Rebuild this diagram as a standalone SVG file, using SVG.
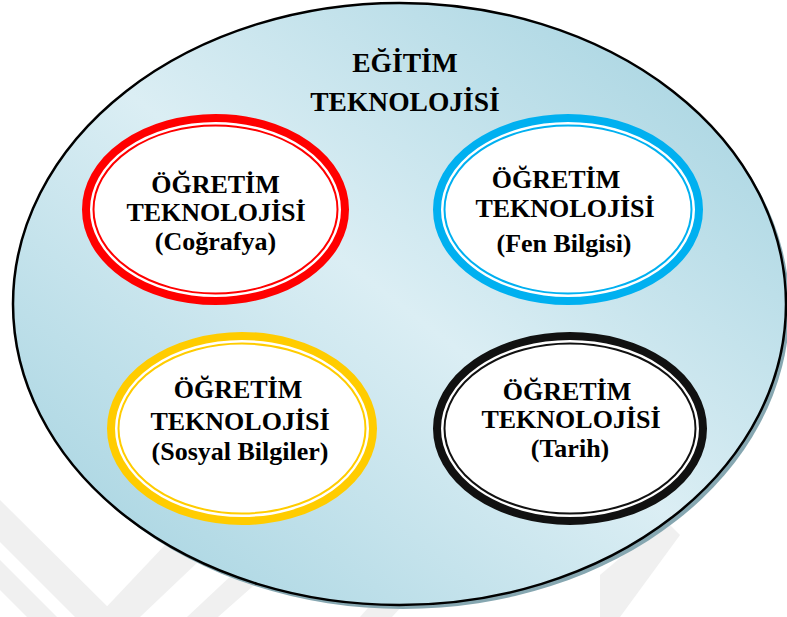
<svg xmlns="http://www.w3.org/2000/svg" width="787" height="617" viewBox="0 0 787 617">
  <style>
    .t { font-family: "Liberation Serif", "Times New Roman", serif; font-weight: 700; font-size: 26px; fill: #000; text-anchor: middle; }
    .tt { font-family: "Liberation Serif", "Times New Roman", serif; font-weight: 700; font-size: 27.5px; fill: #000; text-anchor: middle; }
    .wm { fill: #f0f0f0; }
    .inner { fill: #ffffff; }
  </style>
  <defs>
    <linearGradient id="bg" x1="0" y1="1" x2="1" y2="0">
      <stop offset="0" stop-color="#9fd0de"/>
      <stop offset="0.5" stop-color="#dbeef4"/>
      <stop offset="1" stop-color="#9fd0de"/>
    </linearGradient>
  </defs>
  <rect width="787" height="617" fill="#ffffff"/>
  <g id="watermark">
    <polygon class="wm" points="0,500 0,542 75,617 118,617"/>
    <polygon class="wm" points="0,560 0,590 27,617 57,617"/>
    <polygon class="wm" points="97,617 140,617 200,560 165,545"/>
    <polygon class="wm" points="187,617 218,617 260,580 235,572"/>
    <polygon class="wm" points="360,617 392,617 480,520 450,515"/>
    <polygon class="wm" points="600,575 600,617 620,617 680,535 665,520"/>
  </g>
  <g id="egitim-teknolojisi">
    <ellipse cx="403" cy="308" rx="386.5" ry="301" fill="#86a7b1"/>
    <ellipse cx="399.5" cy="304" rx="386.5" ry="301" fill="url(#bg)" stroke="#000" stroke-width="2.5"/>
    <text class="tt" x="405" y="72">EĞİTİM</text>
    <text class="tt" x="405" y="111">TEKNOLOJİSİ</text>
  </g>
  <g id="cografya">
    <ellipse cx="215.5" cy="209.5" rx="129.5" ry="91.5" class="inner" stroke="#ff0000" stroke-width="8"/>
    <ellipse cx="215.5" cy="209.5" rx="122" ry="84" fill="none" stroke="#ff0000" stroke-width="2"/>
    <text class="t" x="215.5" y="193">ÖĞRETİM</text>
    <text class="t" x="216" y="221">TEKNOLOJİSİ</text>
    <text class="t" x="215.5" y="250">(Coğrafya)</text>
  </g>
  <g id="fen-bilgisi">
    <ellipse cx="568" cy="209.5" rx="131" ry="91.5" class="inner" stroke="#00b0f0" stroke-width="8"/>
    <ellipse cx="568" cy="209.5" rx="123.5" ry="84" fill="none" stroke="#00b0f0" stroke-width="2"/>
    <text class="t" x="556" y="188">ÖĞRETİM</text>
    <text class="t" x="565" y="217">TEKNOLOJİSİ</text>
    <text class="t" x="564" y="252">(Fen Bilgisi)</text>
  </g>
  <g id="sosyal-bilgiler">
    <ellipse cx="242" cy="428.5" rx="131" ry="92.5" class="inner" stroke="#ffcc00" stroke-width="8"/>
    <ellipse cx="242" cy="428.5" rx="123.5" ry="85" fill="none" stroke="#ffcc00" stroke-width="2"/>
    <text class="t" x="238" y="398">ÖĞRETİM</text>
    <text class="t" x="240" y="430">TEKNOLOJİSİ</text>
    <text class="t" x="240" y="460">(Sosyal Bilgiler)</text>
  </g>
  <g id="tarih">
    <ellipse cx="570" cy="428.5" rx="133" ry="92.5" class="inner" stroke="#111111" stroke-width="8"/>
    <ellipse cx="570" cy="428.5" rx="125.5" ry="85" fill="none" stroke="#111111" stroke-width="2"/>
    <text class="t" x="567" y="400">ÖĞRETİM</text>
    <text class="t" x="571" y="428">TEKNOLOJİSİ</text>
    <text class="t" x="570" y="457">(Tarih)</text>
  </g>
  <g id="connectors"/>
</svg>
